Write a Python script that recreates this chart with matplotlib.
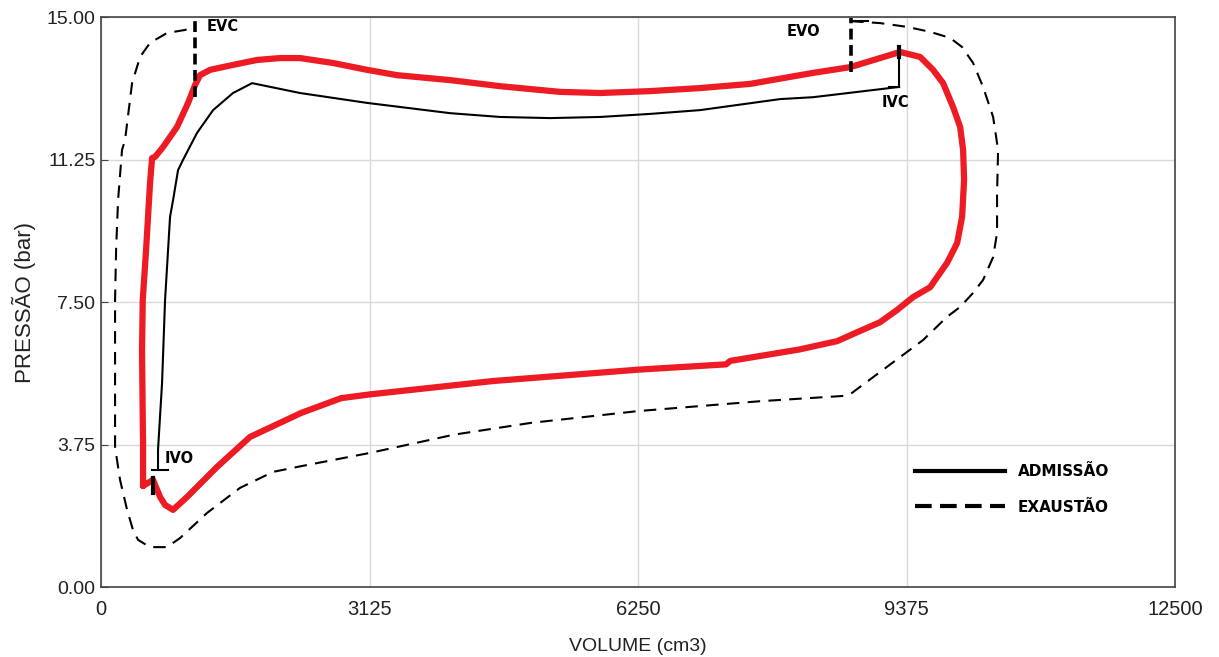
import matplotlib
matplotlib.use("Agg")
import matplotlib.pyplot as plt
from matplotlib.lines import Line2D

# ---- data (volume cm3, pressure bar) ----
red_v = [489, 489, 485, 477, 485, 524, 570, 594, 629, 722, 885, 1013, 1094, 1152, 1269, 1536,
         1816, 2084, 2316, 2700, 3096, 3445, 4062, 4644, 5343, 5808, 6390, 6972, 7554, 8288,
         8718, 9300, 9533, 9684, 9801, 9917, 9999, 10034, 10045, 10022, 9964, 9847, 9650,
         9452, 9265, 9068, 8835, 8567, 8125, 7322, 7275, 6251, 4558, 3131, 2794, 2328, 1734,
         1350, 1001, 838, 745, 687, 605, 489]
red_p = [2.66, 3.79, 4.47, 6.24, 7.55, 8.87, 10.63, 11.29, 11.32, 11.58, 12.11, 12.74, 13.21,
         13.47, 13.61, 13.74, 13.87, 13.92, 13.92, 13.79, 13.61, 13.47, 13.34, 13.18, 13.03,
         13.00, 13.05, 13.13, 13.24, 13.53, 13.68, 14.08, 13.95, 13.61, 13.26, 12.63, 12.11,
         11.50, 10.71, 9.74, 9.05, 8.53, 7.89, 7.63, 7.29, 6.97, 6.74, 6.47, 6.25, 5.95, 5.86,
         5.72, 5.42, 5.07, 4.97, 4.58, 3.95, 3.16, 2.37, 2.03, 2.16, 2.37, 2.82, 2.66]

adm_v = [663, 663, 710, 745, 803, 838, 896, 954, 1117, 1304, 1536, 1758, 2316, 3096, 4062,
         4644, 5226, 5808, 6390, 6972, 7903, 8288, 9289]
adm_p = [3.08, 3.61, 5.37, 7.55, 9.74, 10.18, 10.97, 11.24, 11.95, 12.55, 13.00, 13.26, 13.00,
         12.74, 12.47, 12.37, 12.34, 12.37, 12.45, 12.55, 12.84, 12.89, 13.16]

exa_v = [8730, 9068, 9382, 9650, 9882, 10022, 10150, 10266, 10383, 10441, 10429, 10429, 10383,
         10266, 10150, 9999, 9847, 9568, 9300, 8741, 8648, 7671, 6251, 5005, 4109, 3131, 2328,
         2002, 1618, 1234, 920, 768, 570, 431, 372, 303, 221, 163, 163, 163, 175, 198, 244,
         279, 361, 454, 570, 768, 978, 1071]
exa_p = [14.89, 14.84, 14.74, 14.61, 14.45, 14.21, 13.79, 13.16, 12.37, 11.50, 10.37, 9.32,
         8.68, 8.08, 7.74, 7.37, 7.11, 6.50, 6.05, 5.11, 5.03, 4.89, 4.63, 4.32, 4.01, 3.53,
         3.18, 3.03, 2.61, 1.95, 1.29, 1.05, 1.05, 1.24, 1.50, 2.03, 2.82, 3.68, 4.92, 7.55,
         8.87, 10.18, 11.50, 11.76, 13.26, 13.95, 14.32, 14.58, 14.66, 14.74]

# valve events: (volume, p_low, p_high)
evc = (1094, 12.89, 14.95)
evo = (8726, 13.55, 14.97)
ivc = (9289, 13.16, 14.08)
ivo_tick = (594, 780, 3.08)
ivo_mark = (605, 2.47, 2.87)
ivc_mark = (9289, 13.95, 14.2)

labels = {"EVC": (1234, 14.74), "EVO": (7985, 14.61), "IVC": (9091, 12.74), "IVO": (745, 3.37)}

x_ticks = [0, 3125, 6250, 9375, 12500]
y_ticks = [0.0, 3.75, 7.50, 11.25, 15.00]

# ---- figure ----
fig = plt.figure(figsize=(12.19, 6.57), dpi=100)
ax = fig.add_axes([0.0829, 0.1065, 0.8810, 0.8676])

ax.set_xlim(0, 12500)
ax.set_ylim(0, 15)
ax.set_xticks(x_ticks)
ax.set_xticklabels([str(t) for t in x_ticks])
ax.set_yticks(y_ticks)
ax.set_yticklabels([f"{t:.2f}" for t in y_ticks])
ax.grid(True, color="#d9d9d9", lw=1)
ax.set_axisbelow(True)
for s in ax.spines.values():
    s.set_color("#444444")
    s.set_linewidth(1.2)
ax.tick_params(axis="y", length=5, direction="in", color="#444444", labelsize=14, pad=4)
ax.tick_params(axis="x", length=0, labelsize=14.5, pad=9)
for lab in ax.get_xticklabels() + ax.get_yticklabels():
    lab.set_family("Liberation Sans")
    lab.set_color("#222222")

ax.set_xlabel("VOLUME (cm3)", family="Liberation Sans", fontsize=14, labelpad=14, color="#222222")
ax.set_ylabel("PRESSÃO (bar)", family="Liberation Sans", fontsize=16, labelpad=8, color="#222222")

# curves
ax.plot(exa_v, exa_p, color="black", lw=1.5, ls=(0, (6, 4)), zorder=3)
ax.plot(adm_v, adm_p, color="black", lw=1.5, zorder=3)
ax.plot(red_v, red_p, color="#ED1C24", lw=4.5, solid_joinstyle="round", solid_capstyle="round", zorder=4)

# valve event markers
ax.plot([evc[0], evc[0]], [evc[1], evc[2]], color="black", lw=2.6, ls=(0, (3, 1.5)), zorder=5)
ax.plot([evo[0], evo[0]], [evo[1], evo[2]], color="black", lw=2.6, ls=(0, (3, 1.5)), zorder=5)
ax.plot([evo[0], evo[0] + 200], [evo[2] - 0.08, evo[2] - 0.08], color="black", lw=1.5, zorder=5)
ax.plot([ivc[0], ivc[0]], [ivc[1], ivc[2]], color="black", lw=1.5, zorder=5)
ax.plot([ivc[0] - 120, ivc[0]], [ivc[1], ivc[1]], color="black", lw=1.5, zorder=5)
ax.plot([ivc_mark[0], ivc_mark[0]], [ivc_mark[1], ivc_mark[2]], color="black", lw=3, zorder=5)
ax.plot([ivo_tick[0], ivo_tick[1]], [ivo_tick[2], ivo_tick[2]], color="black", lw=1.5, zorder=5)
ax.plot([ivo_mark[0], ivo_mark[0]], [ivo_mark[1], ivo_mark[2]], color="black", lw=3, zorder=5)

for txt, (x, y) in labels.items():
    ax.text(x, y, txt, family="DejaVu Sans", fontweight="bold", fontsize=10.5,
            ha="left", va="center", color="black", zorder=6)

handles = [Line2D([], [], color="black", lw=3),
           Line2D([], [], color="black", lw=3, ls=(0, (4, 2)))]
leg = ax.legend(handles, ["ADMISSÃO", "EXAUSTÃO"], loc="upper left",
                bbox_to_anchor=(0.745, 0.24), frameon=False, handlelength=5.9,
                handletextpad=0.85, labelspacing=1.35,
                prop={"family": "DejaVu Sans", "weight": "bold", "size": 11})

fig.savefig("out.png", dpi=100)
